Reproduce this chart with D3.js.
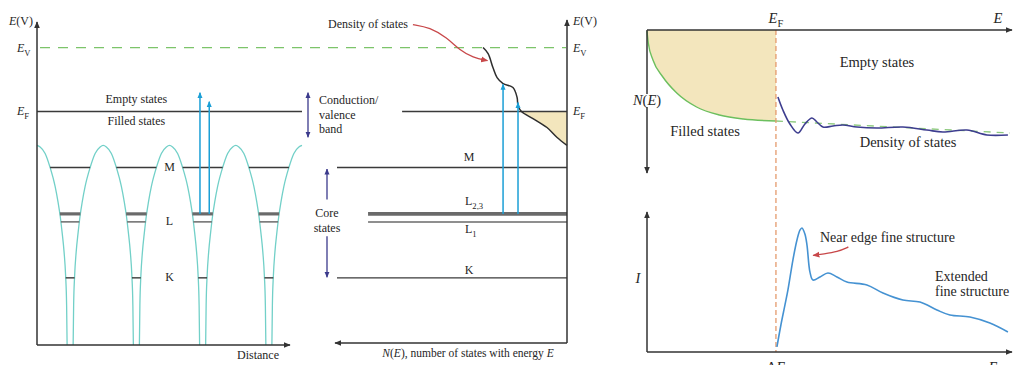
<!DOCTYPE html>
<html>
<head>
<meta charset="utf-8">
<script src="https://cdn.jsdelivr.net/npm/d3@7"></script>
<style>
  body { margin: 0; background: #fff; }
  svg text { font-family: "Liberation Serif", "DejaVu Serif", serif; fill: #262626; }
</style>
</head>
<body>
<svg id="chart" width="1018" height="365" font-family="Liberation Serif, DejaVu Serif, serif"></svg>
<script>
// ---------------- data ----------------
// Energy levels (arbitrary units, Fermi level = 0)
const levelKeys     = ["EV", "EF", "M", "L23", "L1", "K"];
const levelEnergies = [20, 0, -17.5, -32, -34.5, -52];

// Atom positions along the "Distance" axis
const wellCenters = [1, 3, 5, 7];
// Potential-well wall profile: distance from nucleus vs. energy
const wellDist   = [0.091, 0.106, 0.136, 0.181, 0.242, 0.302, 0.363, 0.453, 0.604, 0.755, 0.906, 1.0];
const wellEnergy = [-73, -60.6, -51.3, -44.1, -37.8, -32.5, -28.4, -23.4, -17.5, -13.1, -11.1, -10.6];

// Excitations L2,3 -> empty states (real-space picture)
const leftArrowX   = [4.92, 5.2];
const leftArrowTop = [5.9, 3.1];

// Density of states N(E) around the Fermi level
const dosN = [36.5, 34.3, 32.2, 30.4, 27.8, 23.5, 21.7, 21.3, 19.8, 14.8, 8.7, 4.3, 0];
const dosE = [20, 18.1, 13.75, 10.6, 8.75, 7.5, 4.4, 1.9, 0, -2.2, -5, -8.1, -10.6];

// Excitations L2,3 -> empty states (density-of-states picture)
const midArrowN   = [27.8, 21.3];
const midArrowTop = [8.5, 2.8];

// Right panel: occupied free-electron-like band
const filledE = [-13, -12.87, -12.4, -11.4, -10, -8, -5.7, -3.3, 0];
const filledN = [0.1, 1.3, 3.0, 4.7, 6.3, 7.7, 8.5, 8.9, 9.1];
// Smooth reference level continuing above E_F
const refE = [0, 23.6];
const refN = [9.1, 10.3];
// Unoccupied density of states above E_F
const emptyE = [0.2, 0.7, 1.41, 2.22, 2.92, 3.63, 4.13, 4.74, 5.75, 6.75, 8.17, 10.18, 12.8, 15.22, 16.83, 19.25, 21.27, 23.39];
const emptyN = [6.7, 8.0, 9.4, 10.3, 9.4, 8.8, 9.2, 9.7, 9.6, 9.5, 9.7, 9.8, 9.7, 10.0, 10.2, 10.0, 10.5, 10.5];

// Edge intensity I(E) above the threshold ΔE
const edgeE = [0.1, 0.5, 0.91, 1.21, 1.71, 2.12, 2.42, 2.62, 2.92, 3.13, 3.43, 3.73, 4.44, 5.24, 6.15, 7.16, 9.17, 10.79, 12.8, 14.52, 16.23, 17.54, 19.56, 21.57, 23.39];
const edgeI = [0.36, 1.93, 3.36, 4.43, 6.57, 8.0, 8.71, 8.86, 8.43, 7.64, 5.71, 5.14, 5.36, 5.64, 5.36, 5.0, 4.79, 4.21, 3.71, 3.57, 3.0, 2.64, 2.5, 2.07, 1.43];

// ---------------- drawing ----------------
const svg = d3.select("#chart");
const lev = Object.fromEntries(levelKeys.map((k, i) => [k, levelEnergies[i]]));
const FONT = "Liberation Serif, DejaVu Serif, serif";

const C = {
  axis: "#333", level: "#3a3a3a", levelGrey: "#6a6a6a", well: "#72d0c8",
  trans: "#1b9fd6", purple: "#3b3a8c", navy: "#3d3d8f", beige: "#f3e6bd",
  green: "#7cc46a", orange: "#e59a6c", red: "#c8484a", edge: "#4592d2"
};

// arrowhead markers
const defs = svg.append("defs");
function marker(id, color, size) {
  defs.append("marker").attr("id", id)
    .attr("viewBox", "0 0 10 10").attr("refX", 9).attr("refY", 5)
    .attr("markerUnits", "userSpaceOnUse")
    .attr("markerWidth", size).attr("markerHeight", size)
    .attr("orient", "auto-start-reverse")
    .append("path").attr("d", "M0,0.8 L10,5 L0,9.2 Z").attr("fill", color);
}
marker("ahBlack", C.axis, 7);
marker("ahBlue", C.trans, 6);
marker("ahPurple", C.purple, 6);
marker("ahRed", C.red, 7);

function line(g, x1, y1, x2, y2, stroke, w, extra) {
  const l = g.append("line").attr("x1", x1).attr("y1", y1).attr("x2", x2).attr("y2", y2)
    .attr("stroke", stroke).attr("stroke-width", w);
  if (extra) extra(l);
  return l;
}
function arrow(g, pts, color, w, mEnd, mStart) {
  const p = g.append("path").attr("d", d3.line()(pts)).attr("fill", "none")
    .attr("stroke", color).attr("stroke-width", w);
  if (mEnd) p.attr("marker-end", `url(#${mEnd})`);
  if (mStart) p.attr("marker-start", `url(#${mStart})`);
  return p;
}
// text made of styled runs: [text, italic?, subscript?]
function rich(g, x, y, runs, size, anchor) {
  const t = g.append("text").attr("x", x).attr("y", y)
    .attr("font-family", FONT)
    .attr("font-size", size).attr("text-anchor", anchor || "start");
  let sub = false;
  runs.forEach(([s, it, sb]) => {
    const ts = t.append("tspan").text(s);
    if (it) ts.attr("font-style", "italic");
    if (sb && !sub) { ts.attr("dy", size * 0.3).attr("font-size", size * 0.72); sub = true; }
    else if (sb) { ts.attr("font-size", size * 0.72); }
    else if (!sb && sub) { ts.attr("dy", -size * 0.3); sub = false; }
  });
  return t;
}

// ===== shared energy scale for the two band pictures =====
const yE = d3.scaleLinear().domain([-73, 28]).range([345, 22]);

// ===== Left panel: potential wells vs distance =====
const gL = svg.append("g");
const xD = d3.scaleLinear().domain([0, 8]).range([37, 302]);
const halfW = d3.scaleLinear().domain(wellEnergy).range(wellDist);

// E_V dashed line across both band pictures
line(svg, 40, yE(lev.EV), 566, yE(lev.EV), C.green, 1.4, l => l.attr("stroke-dasharray", "10,8"));

// Fermi level
line(gL, xD(0), yE(lev.EF), xD(8), yE(lev.EF), C.level, 1.5);

// well walls
const prof = wellDist.map((d, i) => ({ d, e: wellEnergy[i] }));
const leftWall = c => prof.slice().reverse().map(p => [c - p.d, p.e]);
const rightWall = c => prof.map(p => [c + p.d, p.e]);
const segs = [leftWall(wellCenters[0])];
for (let i = 0; i < wellCenters.length - 1; i++) {
  segs.push(rightWall(wellCenters[i]).concat(leftWall(wellCenters[i + 1]).slice(1)));
}
segs.push(rightWall(wellCenters[wellCenters.length - 1]));
const wellLine = d3.line().x(p => xD(p[0])).y(p => yE(p[1])).curve(d3.curveMonotoneX);
gL.selectAll("path.well").data(segs).join("path").attr("class", "well")
  .attr("d", wellLine).attr("fill", "none").attr("stroke", C.well).attr("stroke-width", 1.3);

// core levels inside each well
const coreStyle = { M: [C.level, 1.4], L23: [C.levelGrey, 3.2], L1: [C.levelGrey, 1.5], K: [C.level, 1.4] };
Object.entries(coreStyle).forEach(([k, [col, w]]) => {
  const hw = halfW(lev[k]);
  wellCenters.forEach(c => line(gL, xD(c - hw), yE(lev[k]), xD(c + hw), yE(lev[k]), col, w));
});

// transitions
leftArrowX.forEach((x, i) =>
  arrow(gL, [[xD(x), yE(lev.L23)], [xD(x), yE(leftArrowTop[i])]], C.trans, 1.5, "ahBlue"));

// axes
arrow(gL, [[xD(0), 345], [xD(0), 22]], C.axis, 1.5, "ahBlack");
arrow(gL, [[xD(0), 345], [290, 345]], C.axis, 1.5, "ahBlack");

// labels
rich(gL, 9, 25, [["E", true], ["(V)"]], 12);
rich(gL, 17, 52, [["E", true], ["V", false, true]], 12);
rich(gL, 17, 115, [["E", true], ["F", false, true]], 12);
rich(gL, xD(3), 103, [["Empty states"]], 12, "middle");
rich(gL, xD(3), 125, [["Filled states"]], 12, "middle");
rich(gL, xD(4), 171, [["M"]], 12, "middle");
rich(gL, xD(4), 225, [["L"]], 12, "middle");
rich(gL, xD(4), 281, [["K"]], 12, "middle");
rich(gL, 258, 359, [["Distance"]], 12, "middle");

// ===== bracket annotations between panels =====
const gB = svg.append("g");
arrow(gB, [[308, yE(5.9)], [308, yE(-8)]], C.purple, 1.3, "ahPurple", "ahPurple");
rich(gB, 319, 104, [["Conduction/"]], 12);
rich(gB, 319, 119, [["valence"]], 12);
rich(gB, 319, 133, [["band"]], 12);
arrow(gB, [[327, yE(-27.5)], [327, yE(-18)]], C.purple, 1.3, "ahPurple");
arrow(gB, [[327, yE(-39)], [327, yE(-51.8)]], C.purple, 1.3, "ahPurple");
rich(gB, 327, 217, [["Core"]], 12, "middle");
rich(gB, 327, 232, [["states"]], 12, "middle");

// ===== Middle panel: density of states vs energy =====
const gM = svg.append("g");
const xN = d3.scaleLinear().domain([0, 100]).range([567, 337]);
const dos = dosN.map((n, i) => ({ n, e: dosE[i] }));

// filled states below E_F
const filled = dos.filter(d => d.e <= 0);
gM.append("path").datum(filled)
  .attr("d", d3.area().y(d => yE(d.e)).x0(d => xN(d.n)).x1(xN(0)).curve(d3.curveCatmullRom))
  .attr("fill", C.beige);

// level lines
line(gM, xN(71.7), yE(lev.EF), xN(0), yE(lev.EF), C.level, 1.5);
line(gM, xN(100), yE(lev.M), xN(0), yE(lev.M), C.level, 1.4);
line(gM, xN(86.5), yE(lev.L23), xN(0), yE(lev.L23), C.levelGrey, 3.6);
line(gM, xN(86.5), yE(lev.L1), xN(0), yE(lev.L1), C.levelGrey, 1.5);
line(gM, xN(100), yE(lev.K), xN(0), yE(lev.K), C.level, 1.4);

// DOS curve
gM.append("path").datum(dos)
  .attr("d", d3.line().x(d => xN(d.n)).y(d => yE(d.e)).curve(d3.curveCatmullRom))
  .attr("fill", "none").attr("stroke", "#2e2e2e").attr("stroke-width", 1.5);

// transitions
midArrowN.forEach((n, i) =>
  arrow(gM, [[xN(n), yE(lev.L23)], [xN(n), yE(midArrowTop[i])]], C.trans, 1.5, "ahBlue"));

// pointer to the DOS curve
const ptr = [[67, 27.2], [59.6, 26.3], [52.2, 23.1], [46.5, 19.1], [40.9, 16.9], [34.6, 15.9]];
gM.append("path").attr("d", d3.line().x(p => xN(p[0])).y(p => yE(p[1])).curve(d3.curveBasis)(ptr))
  .attr("fill", "none").attr("stroke", C.red).attr("stroke-width", 1.3).attr("marker-end", "url(#ahRed)");
rich(gM, 328, 28, [["Density of states"]], 12);

// axes
arrow(gM, [[xN(0), 343], [xN(0), 20]], C.axis, 1.5, "ahBlack");
arrow(gM, [[xN(0), 343], [335, 343]], C.axis, 1.5, "ahBlack");

rich(gM, 573, 25, [["E", true], ["(V)"]], 12);
rich(gM, 573, 52, [["E", true], ["V", false, true]], 12);
rich(gM, 573, 115, [["E", true], ["F", false, true]], 12);
rich(gM, xN(42.6), 161, [["M"]], 12, "middle");
rich(gM, 465, 205, [["L", false], ["2,3", false, true]], 12);
rich(gM, 465, 233, [["L", false], ["1", false, true]], 12);
rich(gM, xN(42.6), 274, [["K"]], 12, "middle");
rich(gM, 468, 357, [["N", true], ["("], ["E", true], ["), number of states with energy "], ["E", true]], 11.5, "middle");

// ===== Right panel, top: N(E) =====
const gR = svg.append("g");
const xR = d3.scaleLinear().domain([-13, 23.8]).range([647, 1012]);
const yN = d3.scaleLinear().domain([0, 14.3]).range([30, 173]);

const fill = filledE.map((e, i) => ({ e, n: filledN[i] }));
gR.append("path").datum(fill)
  .attr("d", d3.area().x(d => xR(d.e)).y0(yN(0)).y1(d => yN(d.n)).curve(d3.curveMonotoneX))
  .attr("fill", C.beige);
gR.append("path").datum(fill)
  .attr("d", d3.line().x(d => xR(d.e)).y(d => yN(d.n)).curve(d3.curveMonotoneX))
  .attr("fill", "none").attr("stroke", "#6cbf5e").attr("stroke-width", 1.4);
gR.append("path").datum(refE.map((e, i) => ({ e, n: refN[i] })))
  .attr("d", d3.line().x(d => xR(d.e)).y(d => yN(d.n)))
  .attr("fill", "none").attr("stroke", "#8dc97e").attr("stroke-width", 1.3).attr("stroke-dasharray", "7,6");
gR.append("path").datum(emptyE.map((e, i) => ({ e, n: emptyN[i] })))
  .attr("d", d3.line().x(d => xR(d.e)).y(d => yN(d.n)).curve(d3.curveCatmullRom))
  .attr("fill", "none").attr("stroke", C.navy).attr("stroke-width", 1.6);

// E_F marker line spanning both right plots
line(gR, xR(0), yN(0), xR(0), 352, C.orange, 1.3, l => l.attr("stroke-dasharray", "5,3"));

arrow(gR, [[xR(-13), yN(0)], [1012, yN(0)]], C.axis, 1.5, "ahBlack");
arrow(gR, [[xR(-13), yN(0)], [xR(-13), 173]], C.axis, 1.5, "ahBlack");

// N(E) label sits on the axis with a clear background
const nLab = rich(gR, xR(-13), 105, [["N", true], ["("], ["E", true], [")"]], 14.5, "middle");
const bb = nLab.node().getBBox();
gR.insert("rect", () => nLab.node()).attr("x", bb.x - 1).attr("y", bb.y + 2)
  .attr("width", bb.width + 2).attr("height", bb.height - 4).attr("fill", "#fff");

rich(gR, xR(0), 23, [["E", true], ["F", false, true]], 14.5, "middle");
rich(gR, 998, 23, [["E", true]], 14.5, "middle");
rich(gR, 877, 67, [["Empty states"]], 14.5, "middle");
rich(gR, 705, 136, [["Filled states"]], 14.5, "middle");
rich(gR, 908, 147, [["Density of states"]], 14.5, "middle");

// ===== Right panel, bottom: edge intensity I(E) =====
const gI = svg.append("g");
const yI = d3.scaleLinear().domain([0, 10]).range([352, 212]);
gI.append("path").datum(edgeE.map((e, i) => ({ e, v: edgeI[i] })))
  .attr("d", d3.line().x(d => xR(d.e)).y(d => yI(d.v)).curve(d3.curveCatmullRom))
  .attr("fill", "none").attr("stroke", C.edge).attr("stroke-width", 1.6);

arrow(gI, [[xR(-13), yI(0)], [xR(-13), yI(10)]], C.axis, 1.5, "ahBlack");
arrow(gI, [[xR(-13), yI(0)], [1012, yI(0)]], C.axis, 1.5, "ahBlack");

const nearPtr = [[7.3, 7.5], [6.2, 7.15], [4.8, 7.0], [3.75, 6.9]];
gI.append("path").attr("d", d3.line().x(p => xR(p[0])).y(p => yI(p[1])).curve(d3.curveBasis)(nearPtr))
  .attr("fill", "none").attr("stroke", C.red).attr("stroke-width", 1.4).attr("marker-end", "url(#ahRed)");

rich(gI, 638, 283, [["I", true]], 14.5, "middle");
rich(gI, 820, 242, [["Near edge fine structure"]], 14, "start");
rich(gI, 935, 281, [["Extended"]], 14, "start");
rich(gI, 935, 296, [["fine structure"]], 14, "start");
rich(gI, xR(0), 372, [["Δ"], ["E", true]], 14.5, "middle");
rich(gI, 993, 372, [["E", true]], 14.5, "middle");
</script>
</body>
</html>
